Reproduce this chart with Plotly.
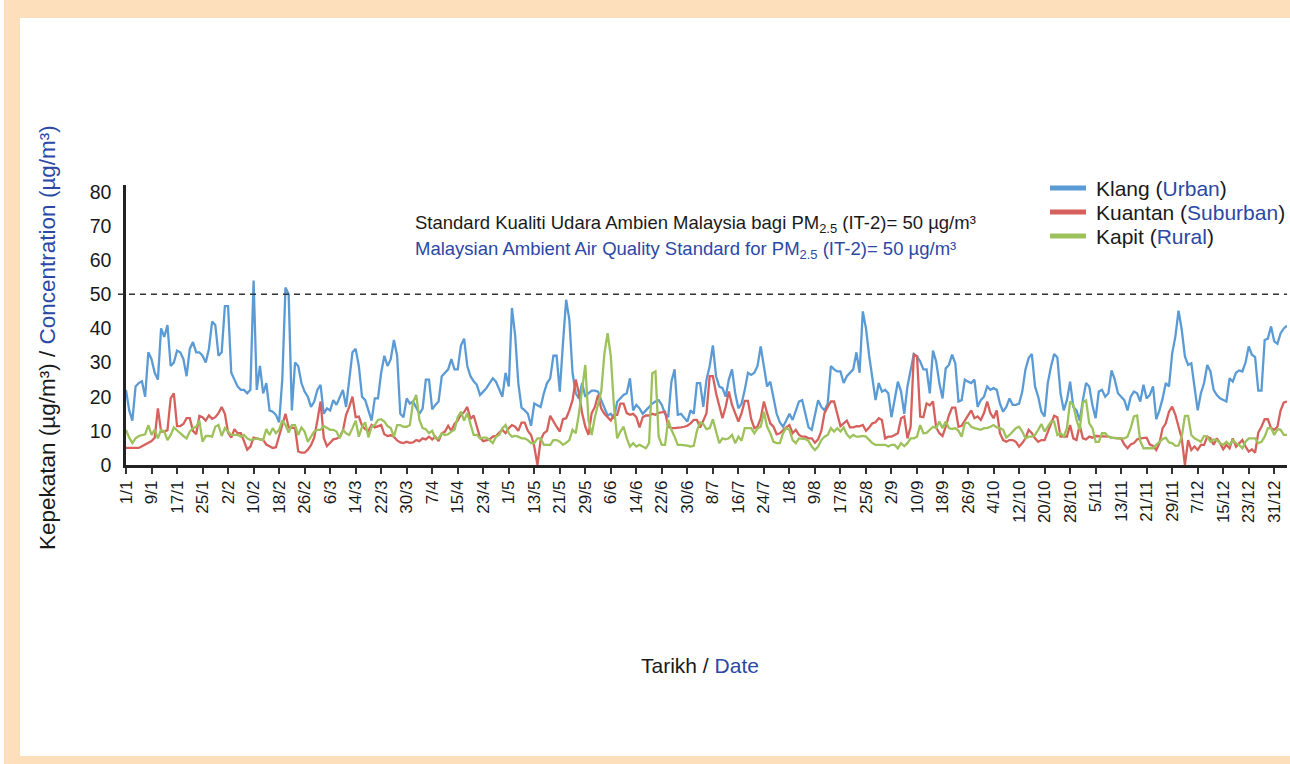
import plotly.graph_objects as go

# ---- data (daily PM2.5) ----
tick_labels = ["1/1", "9/1", "17/1", "25/1", "2/2", "10/2", "18/2", "26/2", "6/3", "14/3",
               "22/3", "30/3", "7/4", "15/4", "23/4", "1/5", "13/5", "21/5", "29/5", "6/6",
               "14/6", "22/6", "30/6", "8/7", "16/7", "24/7", "1/8", "9/8", "17/8", "25/8",
               "2/9", "10/9", "18/9", "26/9", "4/10", "12/10", "20/10", "28/10", "5/11", "13/11",
               "21/11", "29/11", "7/12", "15/12", "23/12", "31/12"]

klang = [22, 16, 13, 23, 24, 24.5, 20, 33, 31, 27, 25, 40, 37.5, 41, 29, 30, 33.5, 33, 31, 26,
         34, 36, 33, 33, 32, 30, 34, 42, 41, 32, 33, 46.5, 46.5, 27, 25, 23, 22, 22, 21, 22,
         54, 22, 29, 21, 24, 16, 15.6, 14.7, 12.5, 25, 52, 50, 16, 30, 29, 24, 21.5, 20, 17, 18.5,
         22, 23.5, 15, 16.6, 16, 19, 17.6, 20, 22, 17, 25, 33, 34, 29, 20, 19, 16, 13, 19.5, 19.5,
         27, 32, 29, 31, 36.6, 32, 15, 14, 19.5, 18, 18.6, 17, 15, 16.5, 25, 25, 16.3, 17.6, 18.6, 26,
         27, 28, 31, 28, 28, 35, 37, 29, 26, 24.5, 23.5, 20.5, 21.5, 22.5, 24, 25.4, 24.4, 22, 20, 27,
         23, 46, 38, 24, 16.8, 16, 15, 11.5, 18, 17.5, 17, 21, 24, 25.4, 32, 32, 21.5, 35.7, 48.4, 42.5,
         27, 21, 19.5, 24, 20, 21, 21.8, 21.8, 21.5, 19, 16.5, 14.5, 15, 13.7, 18.5, 19.5, 20.5, 21, 25.4, 16,
         17.6, 16.6, 15, 16, 17, 18, 18.6, 19, 17.6, 15, 14, 24.4, 28, 14.7, 15, 14, 12.7, 16, 15, 24,
         24, 17, 25, 29, 35, 26, 23, 22.5, 20, 25, 28, 21, 16.6, 18, 22, 27, 26.4, 27, 29, 34.7,
         29, 23, 24.4, 20, 15, 12.5, 11.2, 13, 15, 13.2, 16, 18.6, 19, 15, 11, 10.3, 15, 19, 17, 16,
         18, 29, 28, 27.4, 27.4, 24, 26, 27, 28, 33, 27, 45, 40, 32, 25, 19, 24, 21.5, 22, 21,
         14, 19, 24.4, 21.5, 15, 23, 28, 32.5, 31.8, 30.3, 28, 28, 21, 33.5, 30.3, 24, 19.5, 28.3, 29.3, 32.3,
         29.8, 18.6, 19, 25, 24.4, 24, 25, 17, 19, 20, 23, 22, 22.5, 22, 18, 15.6, 17, 19.5, 17.6, 17.6,
         18, 21.5, 28, 31.3, 32.5, 23, 20, 15.6, 14.2, 24, 28.8, 32.5, 31.5, 21, 16, 19, 24.4, 17, 16, 13,
         19, 24, 23, 17.5, 13.7, 21.5, 22, 20, 21, 27.7, 25, 21, 20, 19, 16, 20, 21.5, 21, 18.6, 23.5,
         19.5, 20.5, 23, 13.4, 16, 19.5, 24, 23, 32.7, 37.6, 45.2, 39.6, 31.8, 29.3, 29.8, 22, 16, 21, 24, 29.3,
         27.4, 22, 20.5, 19.5, 19, 18.6, 25.4, 24.4, 27, 27.7, 27.4, 30, 34.7, 32.3, 31.6, 21.8, 21.8, 36.6, 37, 40.6,
         36.2, 35.5, 38.6, 40, 40.8]

kuantan = [5, 5, 5, 5, 5, 5.5, 6, 6.4, 7, 8, 16.6, 9.8, 9.8, 10.2, 19.5, 21, 11.4, 11.4, 12, 13.7,
           13.7, 10, 9, 14.4, 14, 13, 14.5, 13.5, 14, 15.2, 17, 15, 9.5, 8, 10.5, 9.3, 9.3, 7, 4.5, 5.4,
           8, 7.8, 7.5, 7.3, 6, 5.4, 5, 5.2, 8.3, 12, 15, 11, 10.8, 10.8, 4, 3.6, 3.6, 4.5, 5.8, 8,
           13, 18.6, 8, 5.5, 6.5, 7.5, 7.7, 8.2, 10, 14.7, 17, 20, 14, 14.2, 11.5, 10.5, 10, 11.7, 11, 11.3,
           11.7, 9, 8.5, 8.7, 8.3, 7.2, 6.6, 6.4, 6.8, 6.5, 6.6, 7.3, 7, 7.8, 7.5, 8.3, 7.5, 8.3, 7, 9.3,
           9.8, 11.5, 10, 12, 13, 14.7, 15.5, 17, 13.5, 14.5, 11.5, 8, 7, 7.3, 7.5, 8.3, 8.5, 9.5, 10.3, 9.3,
           10.8, 11.7, 11.2, 10, 12.4, 12.4, 10, 8.8, 5.4, 0, 7.3, 9.3, 10, 14.4, 12.7, 11.2, 9.8, 13.4, 13.7, 16,
           19, 25, 21, 15.2, 11.2, 8.8, 15.2, 17, 20.5, 16.5, 15, 14, 13, 14.7, 14.7, 18, 18, 15.2, 14.7, 15,
           14, 11, 14, 14.5, 14.5, 15, 14.7, 15.3, 15.5, 15.6, 11.2, 10.8, 10.8, 10.8, 11, 11.2, 11.5, 12.2, 13.2, 13.2,
           11, 13, 15.2, 26, 26, 21, 17, 13.7, 17, 21.5, 17.6, 15.2, 12.7, 15.2, 18.8, 18.8, 13.5, 10.8, 11.2, 13.7,
           18.6, 15.2, 12.2, 11.2, 9, 9.3, 10.3, 11, 11.7, 9.3, 10.3, 8.8, 8.3, 8.3, 7.8, 7.8, 6.5, 7.5, 10, 15.2,
           17, 18.6, 18.6, 15.2, 11.4, 12.2, 13, 11, 11, 11.4, 11.3, 11.7, 10, 11, 12.2, 12.5, 13.7, 13.2, 7.8, 8.3,
           8.3, 8.8, 9.3, 13.7, 14.2, 7.8, 11.2, 32.3, 31.8, 14.2, 14, 18, 17.5, 18.6, 11, 9.3, 8.5, 11.2, 14.5, 16.8,
           16.8, 11.2, 11.5, 13, 14.5, 16, 13.7, 14.2, 13.2, 15.2, 18.6, 15.2, 13.7, 16, 9.3, 7.3, 6.8, 7.3, 7.3, 6.8,
           5.4, 6.4, 7.8, 10.3, 9.3, 7.8, 6.8, 7.3, 7.3, 9.8, 11.7, 14.4, 14, 8.3, 8.3, 8.3, 11.7, 7.8, 7.3, 11.7,
           7.8, 7.5, 8.3, 8, 8.5, 8.5, 8.3, 8.5, 8.3, 8, 7.8, 7.8, 7.8, 6, 4.9, 6, 6.4, 7.5, 7.8, 7.8,
           8, 6, 5.6, 4.4, 6.4, 10.8, 12.2, 15.6, 17.1, 14.7, 11, 7.8, 0, 7.3, 4.4, 5.4, 4.4, 5.9, 5.9, 8.3,
           7.8, 5.9, 7.8, 6.4, 4.6, 5.9, 4.9, 7.8, 5.4, 6.4, 7.3, 5.4, 3.9, 4.6, 3.6, 9.5, 11.2, 13.4, 13.4, 10.8,
           10.3, 11.2, 16, 18.3, 18.6]

kapit = [10.3, 8, 6.4, 7.8, 8.5, 8.8, 9, 11.7, 8.8, 10.3, 7.8, 10.3, 9.8, 7.3, 8.8, 11, 10, 9.3, 8.5, 7.8,
         9.8, 10.8, 11.2, 13, 6.8, 8.5, 8.5, 8.3, 11.2, 11.7, 8.5, 10.8, 9.8, 8.8, 8.8, 8.8, 8.3, 8.8, 7.8, 7.3,
         7.5, 7.8, 7.5, 7.3, 10.5, 8.8, 10.8, 9.3, 10.3, 13, 11.7, 9.5, 11.7, 11.7, 8.8, 11, 9.8, 6.8, 8.3, 9.8,
         10.3, 10.3, 11.4, 10.8, 10.3, 10.3, 9.8, 7.8, 10.3, 9.3, 8.8, 10.8, 13, 8.3, 11.2, 12.5, 8.1, 11.2, 11.7, 13.2,
         13.4, 12.7, 11.4, 10.8, 8.3, 11.7, 11.7, 11.2, 11.2, 11.7, 18.5, 20.5, 13.2, 10.8, 10.5, 9.3, 10, 7.8, 7.8, 9.3,
         8.8, 9, 9.8, 10.3, 14, 15.6, 13, 15.2, 12.2, 8.8, 8.8, 7.8, 8, 8, 7.3, 6.4, 8.3, 8.8, 10.8, 11.7,
         9.3, 8.3, 8.5, 8.3, 7.8, 7.8, 7.3, 6.4, 6.4, 7.8, 7.8, 5.9, 5.9, 5.9, 7.3, 7.3, 6.8, 5.9, 6.5, 7.3,
         10.3, 9.3, 15, 23, 29.3, 13.2, 8.8, 14, 18, 21.5, 32.7, 38.6, 31.8, 17, 7.8, 9.8, 11.2, 7.8, 5.4, 6.4,
         5.4, 5.9, 5.4, 4.9, 6.4, 26.9, 27.4, 8.3, 5.9, 5.9, 13.2, 10.3, 8.3, 5.9, 5.9, 5.9, 5.7, 5.4, 5.6, 10,
         12.5, 12, 10.5, 10.8, 13.4, 9.8, 6.4, 7.8, 7.5, 7.8, 8.8, 6.4, 8.3, 7.1, 10.8, 10.8, 10.8, 9.3, 10.8, 11.2,
         15.6, 11.2, 9.3, 6.8, 6.4, 6.4, 9.3, 10.8, 10.3, 7.3, 6.4, 7.8, 7.6, 7.6, 7, 5.4, 4.4, 5.4, 7.3, 8.3,
         8.8, 10.8, 9.8, 10.8, 9.8, 11, 9, 8, 8.8, 8.3, 8.3, 8.5, 8.3, 7.3, 6.4, 5.9, 5.9, 6, 5.9, 5.4,
         5.9, 5.9, 4.9, 6.4, 5.5, 6.4, 7.8, 7.8, 8.3, 11.7, 9.3, 9.4, 10.3, 11.2, 10.8, 12.7, 10.8, 12.7, 10.8, 10.5,
         10.8, 10, 8.3, 12.2, 12.4, 11.2, 10.8, 10.5, 10.3, 10.8, 10.8, 11.2, 11.7, 11, 10.8, 10.3, 8, 8.8, 9.8, 10.8,
         11.2, 9.8, 7.8, 8.3, 8.3, 8.8, 10.3, 12, 9.8, 11.2, 12.7, 12.7, 8.8, 9.3, 8.3, 10.8, 18.6, 17.6, 13.2, 10.3,
         18.3, 18.9, 12.2, 10.8, 6.8, 6.8, 9.3, 9.3, 8.3, 8, 7.8, 7.8, 7.8, 7.8, 8.3, 10.8, 14.2, 14.5, 7, 4.9,
         4.9, 4.9, 4.9, 5.9, 6.8, 7.6, 8, 6.6, 6.4, 5.6, 5.7, 8.3, 14.4, 14.4, 8.8, 7.8, 7.3, 6.8, 8.5, 8.3,
         6.8, 7.5, 7.3, 6.4, 5.9, 6.8, 5.9, 7.3, 6.4, 5.9, 4.9, 6.8, 7.8, 7.8, 7.8, 6.4, 6.8, 8.3, 10.8, 10.8,
         8.8, 10.5, 10.3, 8.8, 8.8]

days = list(range(len(klang)))
tick_pos = days[::8][:len(tick_labels)]

BLUE_TXT = "#2B48A6"
INK = "#1a1a1a"
FONT = "Arial, Liberation Sans, sans-serif"

# pixel -> paper helpers (plot area 126..1287 x, 185..465 y)
def px(x):
    return (x - 126) / 1161.0

def py(y):
    return (465 - y) / 280.0

series = [
    ("Klang", "Urban", klang, "#5B9BD5"),
    ("Kuantan", "Suburban", kuantan, "#D6615C"),
    ("Kapit", "Rural", kapit, "#9DC15B"),
]

fig = go.Figure()
for name, kind, vals, col in series:
    fig.add_trace(go.Scatter(x=days, y=vals, mode="lines", name=name, showlegend=False,
                             line=dict(color=col, width=2.3)))

peach = "#FDDFBC"
shapes = [
    dict(type="rect", xref="paper", yref="paper", x0=px(4), x1=px(20), y0=py(764), y1=py(0),
         fillcolor=peach, line=dict(width=0), layer="below"),
    dict(type="rect", xref="paper", yref="paper", x0=px(4), x1=px(1290), y0=py(18), y1=py(0),
         fillcolor=peach, line=dict(width=0), layer="below"),
    dict(type="rect", xref="paper", yref="paper", x0=px(4), x1=px(1290), y0=py(764), y1=py(756),
         fillcolor=peach, line=dict(width=0), layer="below"),
    dict(type="line", xref="paper", yref="y", x0=px(118), x1=1, y0=50, y1=50,
         line=dict(color="#333", width=1.3, dash="6px,5px")),
]

annotations = [
    dict(xref="paper", yref="paper", x=px(413), y=py(224), xanchor="left", yanchor="middle",
         showarrow=False, font=dict(size=18.5, color=INK),
         text="Standard Kualiti Udara Ambien Malaysia bagi PM<sub>2.5</sub> (IT-2)= 50 µg/m³"),
    dict(xref="paper", yref="paper", x=px(413), y=py(250), xanchor="left", yanchor="middle",
         showarrow=False, font=dict(size=18.5, color=BLUE_TXT),
         text="Malaysian Ambient Air Quality Standard for PM<sub>2.5</sub> (IT-2)= 50 µg/m³"),
    dict(xref="paper", yref="paper", x=px(47), y=py(338), xanchor="center", yanchor="middle",
         showarrow=False, textangle=-90, font=dict(size=22.5, color=INK),
         text=f'Kepekatan (µg/m³) / <span style="color:{BLUE_TXT}">Concentration (µg/m³)</span>'),
    dict(xref="paper", yref="paper", x=px(700), y=py(665), xanchor="center", yanchor="middle",
         showarrow=False, font=dict(size=21, color=INK),
         text=f'Tarikh / <span style="color:{BLUE_TXT}">Date</span>'),
]

# hand-drawn legend (tighter row spacing than plotly's own)
for i, (name, kind, vals, col) in enumerate(series):
    yy = 188 + 24 * i
    shapes.append(dict(type="line", xref="paper", yref="paper", x0=px(1050), x1=px(1086),
                       y0=py(yy), y1=py(yy), line=dict(color=col, width=5)))
    annotations.append(dict(xref="paper", yref="paper", x=px(1094), y=py(yy), xanchor="left",
                            yanchor="middle", showarrow=False, font=dict(size=21, color=INK),
                            text=f'{name} (<span style="color:{BLUE_TXT}">{kind}</span>)'))

fig.update_layout(
    width=1290, height=764,
    margin=dict(l=126, r=3, t=185, b=299),
    paper_bgcolor="white", plot_bgcolor="white",
    font=dict(family=FONT, size=17, color=INK),
    showlegend=False,
    xaxis=dict(range=[0, 364], tickmode="array", tickvals=tick_pos, ticktext=tick_labels,
               tickangle=-90, ticks="outside", ticklen=6, tickwidth=2, tickcolor="#333",
               showline=True, linecolor="#222", linewidth=2.5, showgrid=False, zeroline=False,
               tickfont=dict(size=17)),
    yaxis=dict(range=[0, 82], tickvals=[0, 10, 20, 30, 40, 50, 60, 70, 80],
               showline=True, linecolor="#222", linewidth=2.5, showgrid=False, zeroline=False,
               ticks="", ticklabelstandoff=8, tickfont=dict(size=19.5)),
    shapes=shapes,
    annotations=annotations,
)

# page body has an 8px default margin; drop it so the figure sits at the window origin
fig.write_html("out.html", config={"displayModeBar": False},
               post_script="document.body.style.margin='0';document.body.style.overflow='hidden';")
